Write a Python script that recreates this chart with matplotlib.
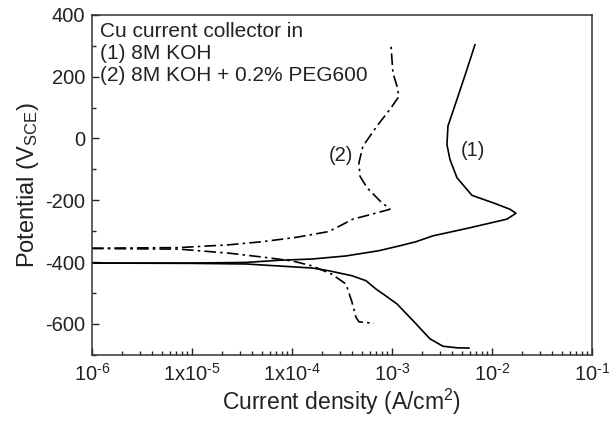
import numpy as np
import matplotlib
matplotlib.use('Agg')
import matplotlib.pyplot as plt
from matplotlib.ticker import MultipleLocator, LogLocator, FixedLocator, FixedFormatter

plt.rcParams['font.family'] = ['Liberation Sans', 'DejaVu Sans']
plt.rcParams['mathtext.fontset'] = 'custom'
plt.rcParams['mathtext.rm'] = 'Liberation Sans'
plt.rcParams['mathtext.it'] = 'Liberation Sans'
plt.rcParams['axes.unicode_minus'] = False

# (1) 8M KOH - cathodic branch (log10 current density, potential mV)
c1_cat_logi = [-6.0, -5.0, -4.46, -3.80, -3.63, -3.40, -3.26, -3.16, -3.08, -2.95, -2.79,
               -2.62, -2.49, -2.35, -2.23]
c1_cat_e = [-403, -404, -406, -419, -428, -444, -460, -487, -505, -535, -589,
            -648, -672, -677, -678]
# (1) anodic branch
c1_an_logi = [-6.0, -5.0, -4.46, -4.13, -3.80, -3.46, -3.13, -2.92, -2.76, -2.59, -2.25,
              -1.85, -1.76, -1.82, -1.99, -2.20, -2.35, -2.42, -2.45, -2.44, -2.35, -2.25, -2.17]
c1_an_e = [-403, -403, -401, -394, -390, -380, -363, -347, -334, -315, -291,
           -261, -242, -229, -208, -184, -127, -68, -20, 40, 126, 223, 303]

# (2) 8M KOH + 0.2% PEG600 - cathodic branch
c2_cat_logi = [-6.0, -5.13, -4.63, -4.26, -4.0, -3.80, -3.60, -3.46, -3.40, -3.36, -3.33, -3.18]
c2_cat_e = [-356, -358, -371, -385, -396, -412, -439, -471, -529, -578, -593, -598]
# (2) anodic branch
c2_an_logi = [-6.0, -5.13, -4.63, -4.30, -3.96, -3.63, -3.39, -3.20, -3.02, -3.12, -3.25,
              -3.32, -3.33, -3.29, -3.15, -3.02, -2.93, -2.95, -2.99, -3.00, -3.01]
c2_an_e = [-355, -353, -344, -334, -320, -301, -261, -245, -229, -202, -159,
           -122, -78, -25, 40, 94, 136, 169, 212, 255, 303]

xtick_vals = [1e-6, 1e-5, 1e-4, 1e-3, 1e-2, 1e-1]
xtick_labels = [r'$10^{\text{-}6}$', r'$1\text{x}10^{\text{-}5}$', r'$1\text{x}10^{\text{-}4}$',
                r'$10^{\text{-}3}$', r'$10^{\text{-}2}$', r'$10^{\text{-}1}$']

fig = plt.figure(figsize=(6.09, 4.21), dpi=100)
ax = fig.add_axes([0.151, 0.157, 0.821, 0.808])

dd = (0, (7, 2.5, 1.5, 2.5))
ax.plot(10 ** np.array(c1_cat_logi), c1_cat_e, color='black', lw=1.2)
ax.plot(10 ** np.array(c1_an_logi), c1_an_e, color='black', lw=1.2)
ax.plot(10 ** np.array(c2_cat_logi), c2_cat_e, color='black', lw=1.2, linestyle=dd)
ax.plot(10 ** np.array(c2_an_logi), c2_an_e, color='black', lw=1.2, linestyle=dd)

ax.set_xscale('log')
ax.set_xlim(1e-6, 1e-1)
ax.set_ylim(-700, 400)

ax.xaxis.set_major_locator(FixedLocator(xtick_vals))
ax.xaxis.set_major_formatter(FixedFormatter(xtick_labels))
ax.xaxis.set_minor_locator(LogLocator(base=10, subs=np.arange(2, 10)))
ax.xaxis.set_minor_formatter(plt.NullFormatter())
ax.yaxis.set_major_locator(MultipleLocator(200))
ax.yaxis.set_minor_locator(MultipleLocator(100))

ax.tick_params(which='both', direction='in', top=False, right=False, labelsize=14.5, colors='#222222')
ax.tick_params(axis='y', which='major', pad=5)
ax.tick_params(axis='x', which='major', pad=6)
ax.tick_params(which='major', length=5, width=1)
ax.tick_params(which='minor', length=3, width=1)
for s in ax.spines.values():
    s.set_linewidth(1.1)
    s.set_color('#333333')

ax.set_xlabel(r'Current density (A/cm$^2$)', fontsize=16.5, color='#222222', labelpad=1)
ax.set_ylabel(r'Potential (V$_{\mathregular{SCE}}$)', fontsize=17, color='#222222', labelpad=3)

ax.text(0.016, 0.98, 'Cu current collector in\n(1) 8M KOH\n(2) 8M KOH + 0.2% PEG600',
        transform=ax.transAxes, ha='left', va='top', fontsize=15, linespacing=1.2, color='#222222')
ax.text(10 ** -3.51, -55, '(2)', fontsize=14.5, ha='center', va='center', color='#222222')
ax.text(10 ** -2.19, -38, '(1)', fontsize=14.5, ha='center', va='center', color='#222222')

fig.savefig('out.png', dpi=100)
